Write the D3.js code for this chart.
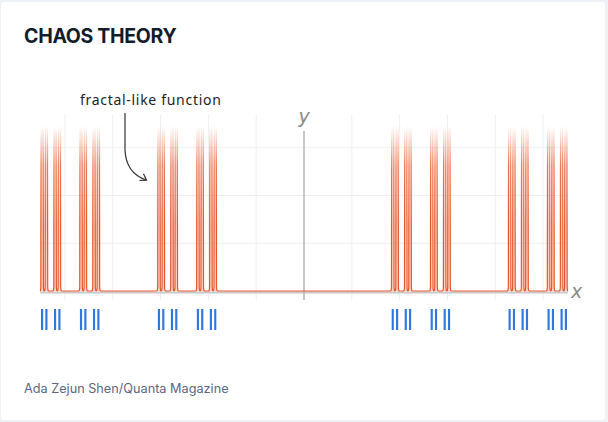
<!DOCTYPE html>
<html>
<head>
<meta charset="utf-8">
<script src="https://cdn.jsdelivr.net/npm/d3@7"></script>
<style>
  body { margin: 0; background: #eef2f6; }
  svg { display: block; }
</style>
</head>
<body>
<div id="wrapper"></div>
<script>
// centres of the narrow spikes (one per blue bar), in x units
const spikeCenters = [
  -5.477, -5.387, -5.206, -5.115, -4.663, -4.572, -4.391, -4.300,
  -3.033, -2.942, -2.761, -2.671, -2.218, -2.128, -1.947, -1.856,
   1.856,  1.947,  2.128,  2.218,  2.671,  2.761,  2.942,  3.033,
   4.300,  4.391,  4.572,  4.663,  5.115,  5.206,  5.387,  5.477,
];
// shape of one spike: offset from centre and height
const spikeDx = [-0.045, -0.034, -0.027, -0.0226, 0.0226, 0.027, 0.034, 0.045];
const spikeDy = [0, 0.015, 0.09, 3.45, 3.45, 0.09, 0.015, 0];
const barWidth = 0.0453;

const gridX = [-5, -4, -3, -2, -1, 1, 2, 3, 4, 5];
const gridY = [1, 2, 3];

const titleText = "CHAOS THEORY";
const annotationText = "fractal-like function";
const creditText = "Ada Zejun Shen/Quanta Magazine";

const dimensions = {
  width: 608,
  height: 422,
}

// build the line points from the spike table
const points = [[-5.52, 0]];
spikeCenters.forEach(c => {
  spikeDx.forEach((dx, i) => points.push([c + dx, spikeDy[i]]));
});
points.push([5.52, 0]);

const xScale = d3.scaleLinear()
  .domain([-5.5, 5.5])
  .range([41, 567]);

const yScale = d3.scaleLinear()
  .domain([0, 4])
  .range([291, 100]);

const svg = d3.select("#wrapper")
  .append("svg")
    .attr("width", dimensions.width)
    .attr("height", dimensions.height);

svg.append("rect")
  .attr("x", 1)
  .attr("y", 2)
  .attr("width", 604)
  .attr("height", 418)
  .attr("rx", 3)
  .attr("fill", "white");

const defs = svg.append("defs");

const fade = (id, color, top) => {
  const g = defs.append("linearGradient")
    .attr("id", id)
    .attr("gradientUnits", "userSpaceOnUse")
    .attr("x1", 0).attr("x2", 0)
    .attr("y1", 126).attr("y2", 225);
  g.append("stop").attr("offset", 0).attr("stop-color", color).attr("stop-opacity", 0);
  g.append("stop").attr("offset", 0.4).attr("stop-color", color).attr("stop-opacity", top * 0.75);
  g.append("stop").attr("offset", 1).attr("stop-color", color).attr("stop-opacity", top);
}
fade("strokeFade", "#e8552a", 1);
fade("fillFade", "#f29a7a", 0.45);

// title and credit
svg.append("text")
  .attr("x", 24)
  .attr("y", 43)
  .attr("fill", "#141c2c")
  .style("font-family", "Inter, sans-serif")
  .style("font-weight", 700)
  .style("font-size", "19.5px")
  .style("letter-spacing", "-0.3px")
  .text(titleText);

svg.append("text")
  .attr("x", 24)
  .attr("y", 393)
  .attr("fill", "#5b6883")
  .style("font-family", "Inter, sans-serif")
  .style("font-size", "12.7px")
  .text(creditText);

const bounds = svg.append("g");

// grid
bounds.append("g")
  .selectAll("line")
  .data(gridY)
  .join("line")
    .attr("x1", xScale(-5.5))
    .attr("x2", xScale(5.5))
    .attr("y1", d => yScale(d))
    .attr("y2", d => yScale(d))
    .attr("stroke", "#efefef")
    .attr("stroke-width", 1);

bounds.append("g")
  .selectAll("line")
  .data(gridX)
  .join("line")
    .attr("x1", d => xScale(d))
    .attr("x2", d => xScale(d))
    .attr("y1", yScale(3.7))
    .attr("y2", yScale(-0.19))
    .attr("stroke", "#efefef")
    .attr("stroke-width", 1);

// axes
bounds.append("line")
  .attr("x1", xScale(-5.52))
  .attr("x2", xScale(5.52))
  .attr("y1", yScale(0) + 1.5)
  .attr("y2", yScale(0) + 1.5)
  .attr("stroke", "#c9c9c9")
  .attr("stroke-width", 2);

bounds.append("line")
  .attr("x1", xScale(0))
  .attr("x2", xScale(0))
  .attr("y1", yScale(3.35))
  .attr("y2", yScale(-0.19))
  .attr("stroke", "#b5b5b5")
  .attr("stroke-width", 1.5);

bounds.append("text")
  .attr("x", xScale(0))
  .attr("y", yScale(3.52))
  .attr("text-anchor", "middle")
  .attr("fill", "#8a8a8a")
  .style("font-family", "'DejaVu Sans', sans-serif")
  .style("font-style", "italic")
  .style("font-size", "19px")
  .text("y");

bounds.append("text")
  .attr("x", xScale(5.5) + 4)
  .attr("y", yScale(0) + 7)
  .attr("fill", "#8a8a8a")
  .style("font-family", "'DejaVu Sans', sans-serif")
  .style("font-style", "italic")
  .style("font-size", "19px")
  .text("x");

// the fractal-like function
const area = d3.area()
  .x(d => xScale(d[0]))
  .y0(yScale(0))
  .y1(d => yScale(d[1]))
  .curve(d3.curveMonotoneX);

const line = d3.line()
  .x(d => xScale(d[0]))
  .y(d => yScale(d[1]))
  .curve(d3.curveMonotoneX);

bounds.append("path")
  .datum(points)
  .attr("d", area)
  .attr("fill", "url(#fillFade)");

bounds.append("path")
  .datum(points)
  .attr("d", line)
  .attr("fill", "none")
  .attr("stroke", "url(#strokeFade)")
  .attr("stroke-width", 1.2);

// blue bars
bounds.append("g")
  .selectAll("rect")
  .data(spikeCenters)
  .join("rect")
    .attr("x", d => xScale(d - barWidth / 2))
    .attr("width", d => xScale(d + barWidth / 2) - xScale(d - barWidth / 2))
    .attr("y", 309)
    .attr("height", 21)
    .attr("fill", "#2f78e0");

// annotation
svg.append("text")
  .attr("x", 80)
  .attr("y", 105)
  .attr("fill", "#1e1e1e")
  .style("font-family", "'Noto Sans', sans-serif")
  .style("font-size", "14px")
  .style("letter-spacing", "0.7px")
  .text(annotationText);

svg.append("path")
  .attr("d", "M125,113 L125,150 Q126,173 146,180")
  .attr("fill", "none")
  .attr("stroke", "#333")
  .attr("stroke-width", 1.2);

svg.append("path")
  .attr("d", "M139.5,180.5 L146.5,180.2 L143.5,173.8")
  .attr("fill", "none")
  .attr("stroke", "#333")
  .attr("stroke-width", 1.2);
</script>
</body>
</html>
